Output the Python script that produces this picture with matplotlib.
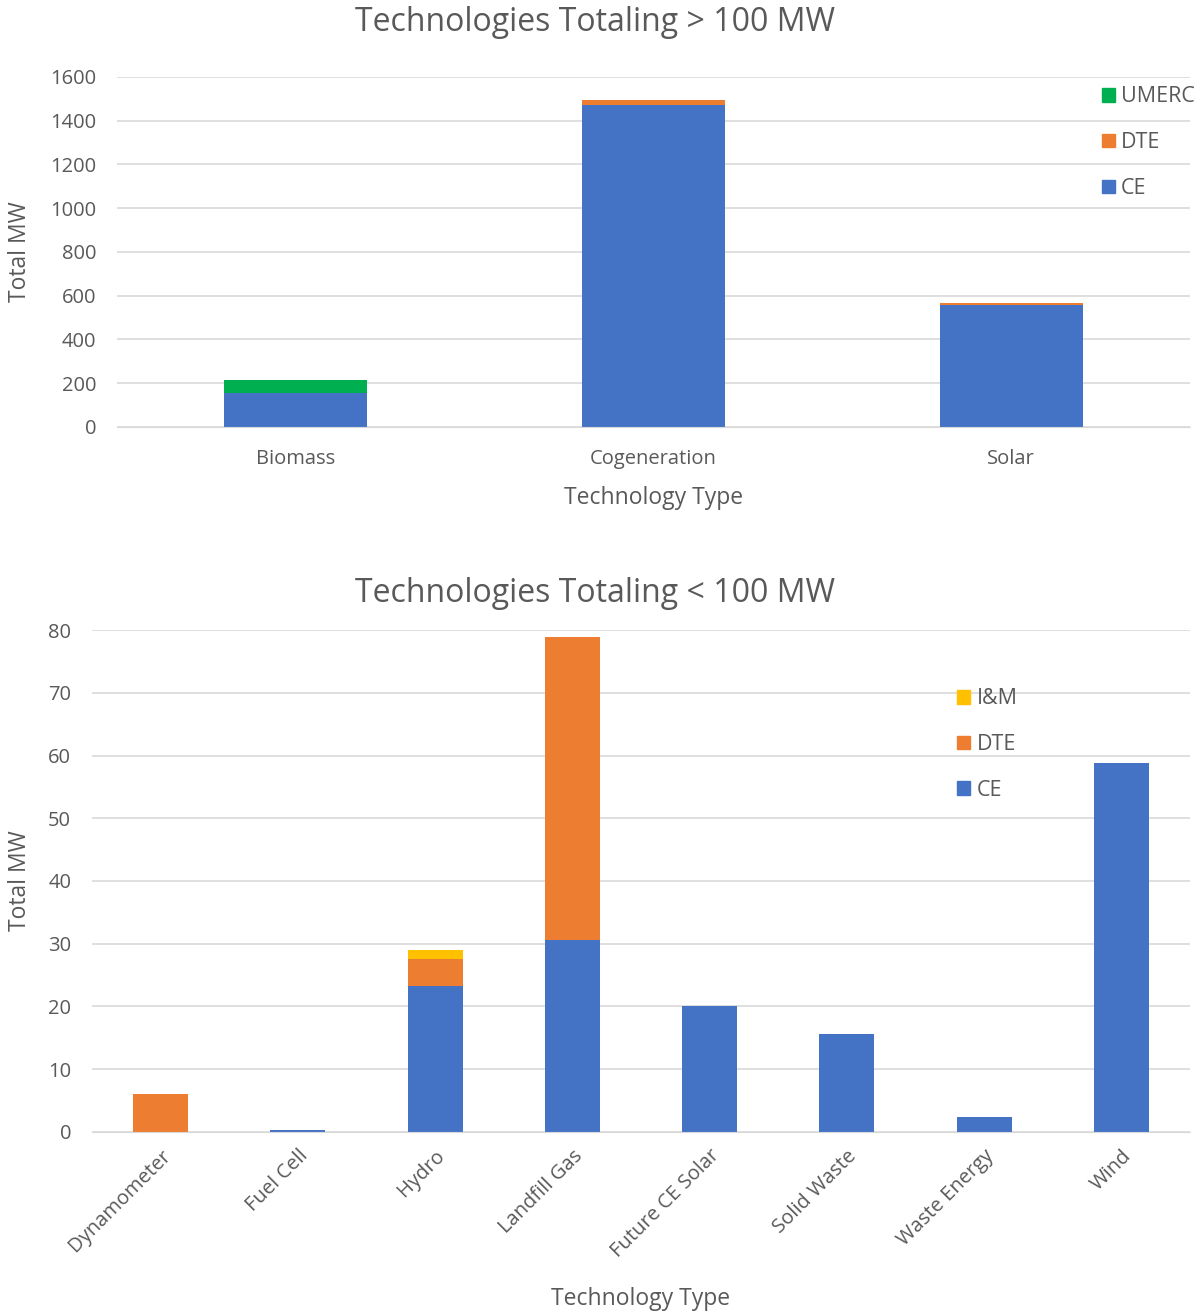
import matplotlib.pyplot as plt
from matplotlib.patches import Patch
import numpy as np

plt.rcParams['font.family'] = ['Open Sans', 'DejaVu Sans']

# top chart data
big_tech = ['Biomass', 'Cogeneration', 'Solar']
big_ce = [155, 1472, 558]
big_dte = [0, 23, 9]
big_umerc = [60, 0, 0]

# bottom chart data
small_tech = ['Dynamometer', 'Fuel Cell', 'Hydro', 'Landfill Gas',
              'Future CE Solar', 'Solid Waste', 'Waste Energy', 'Wind']
small_ce = [0, 0.3, 23.3, 30.6, 20.0, 15.6, 2.4, 58.8]
small_dte = [6.1, 0, 4.3, 48.3, 0, 0, 0, 0]
small_im = [0, 0, 1.4, 0, 0, 0, 0, 0]

c_ce = '#4472C4'
c_dte = '#ED7D31'
c_umerc = '#00B050'
c_im = '#FFC000'
txt = '#595959'

fig = plt.figure(figsize=(12.04, 13.15), dpi=100)


def style(ax):
    for s in ['top', 'right', 'left']:
        ax.spines[s].set_visible(False)
    ax.spines['bottom'].set_color('#d9d9d9')
    ax.grid(axis='y', color='#d9d9d9', linewidth=1.2)
    ax.set_axisbelow(True)
    ax.tick_params(length=0, colors=txt, labelsize=14.5)
    ax.tick_params(axis='y', pad=15)


# ---- top ----
ax1 = fig.add_axes([0.0972, 0.6753, 0.8912, 0.2662])
x1 = np.arange(len(big_tech))
b1 = np.array(big_ce)
ax1.bar(x1, big_ce, 0.4, color=c_ce)
ax1.bar(x1, big_dte, 0.4, bottom=b1, color=c_dte)
ax1.bar(x1, big_umerc, 0.4, bottom=b1 + np.array(big_dte), color=c_umerc)
ax1.set_xlim(-0.5, len(big_tech) - 0.5)
ax1.set_ylim(0, 1600)
ax1.set_yticks(range(0, 1601, 200))
ax1.set_xticks(x1)
ax1.set_xticklabels(big_tech)
style(ax1)
ax1.tick_params(axis='x', pad=16)
ax1.set_xlabel('Technology Type', color=txt, fontsize=16.5)
ax1.xaxis.set_label_coords(0.5, -0.169)
ax1.set_ylabel('Total MW', color=txt, fontsize=16.5)
ax1.yaxis.set_label_coords(-0.079, 0.5)
fig.text(0.494, 0.983, 'Technologies Totaling > 100 MW', ha='center', va='center',
         fontsize=23, color=txt)
fig.legend(handles=[Patch(color=c_umerc, label='UMERC'), Patch(color=c_dte, label='DTE'),
                    Patch(color=c_ce, label='CE')],
           loc='upper left', bbox_to_anchor=(0.899, 0.949), frameon=False,
           handlelength=0.6, handleheight=0.6, handletextpad=0.3, labelspacing=1.15,
           fontsize=15.5, labelcolor=txt)

# ---- bottom ----
ax2 = fig.add_axes([0.0764, 0.1392, 0.912, 0.3817])
x2 = np.arange(len(small_tech))
b2 = np.array(small_ce)
ax2.bar(x2, small_ce, 0.4, color=c_ce)
ax2.bar(x2, small_dte, 0.4, bottom=b2, color=c_dte)
ax2.bar(x2, small_im, 0.4, bottom=b2 + np.array(small_dte), color=c_im)
ax2.set_xlim(-0.5, len(small_tech) - 0.5)
ax2.set_ylim(0, 80)
ax2.set_yticks(range(0, 81, 10))
ax2.set_xticks(x2)
ax2.set_xticklabels(small_tech, rotation=45, ha='right', rotation_mode='anchor')
style(ax2)
ax2.tick_params(axis='x', pad=10)
ax2.set_xlabel('Technology Type', color=txt, fontsize=16.5)
ax2.xaxis.set_label_coords(0.5, -0.309)
ax2.set_ylabel('Total MW', color=txt, fontsize=16.5)
ax2.yaxis.set_label_coords(-0.0546, 0.5)
fig.text(0.494, 0.549, 'Technologies Totaling < 100 MW', ha='center', va='center',
         fontsize=23, color=txt)
fig.legend(handles=[Patch(color=c_im, label='I&M'), Patch(color=c_dte, label='DTE'),
                    Patch(color=c_ce, label='CE')],
           loc='upper left', bbox_to_anchor=(0.779, 0.4913), frameon=False,
           handlelength=0.6, handleheight=0.6, handletextpad=0.3, labelspacing=1.15,
           fontsize=15.5, labelcolor=txt)

fig.savefig('out.png', dpi=100)
